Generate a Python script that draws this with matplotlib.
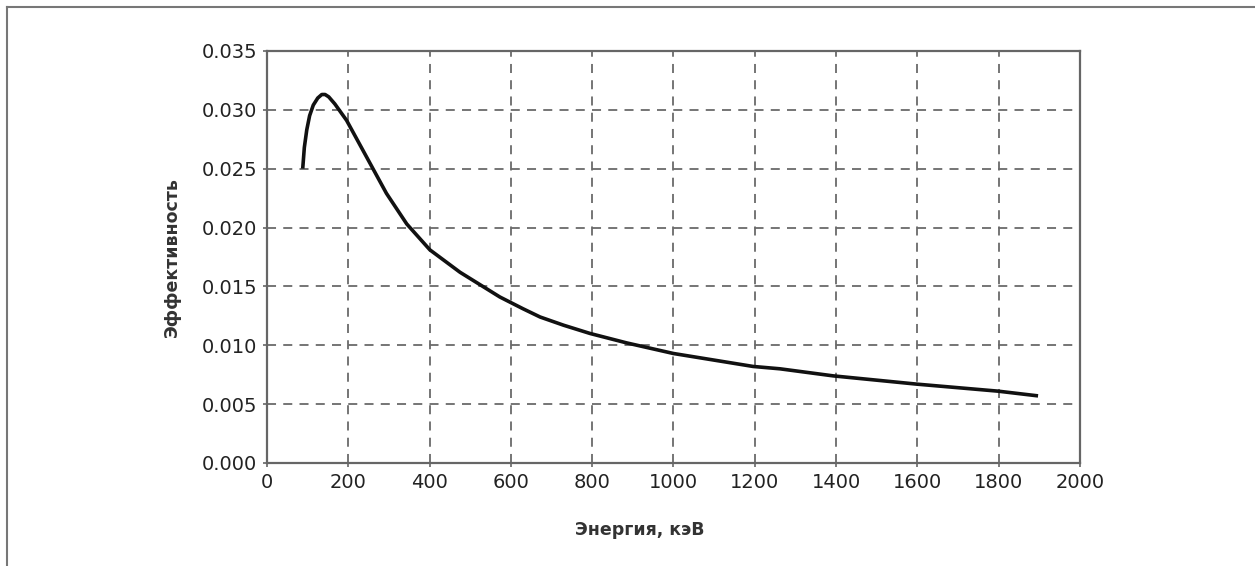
import numpy as np
import matplotlib
matplotlib.use("Agg")
from matplotlib import pyplot as plt
from matplotlib.lines import Line2D

plt.rcParams['font.family'] = ['DejaVu Sans']

# efficiency curve
energy = [88, 92, 98, 105, 114, 125, 135, 143, 152, 167, 196, 245, 294, 344, 401, 475,
          573, 630, 672, 730, 795, 885, 1000, 1196, 1262, 1393, 1598, 1799, 1897]
efficiency = [0.0250, 0.0268, 0.0283, 0.0295, 0.0304, 0.0310, 0.0313, 0.0313, 0.0311,
              0.0305, 0.0291, 0.0260, 0.0229, 0.0203, 0.0181, 0.0162, 0.0141, 0.0131,
              0.0124, 0.0117, 0.0110, 0.0102, 0.0093, 0.0082, 0.0080, 0.0074, 0.0067,
              0.0061, 0.0057]

x_ticks = [0, 200, 400, 600, 800, 1000, 1200, 1400, 1600, 1800, 2000]
y_ticks = [0.000, 0.005, 0.010, 0.015, 0.020, 0.025, 0.030, 0.035]

fig = plt.figure(figsize=(12.55, 5.66), dpi=100)
ax = fig.add_axes([0.2127, 0.182, 0.6478, 0.728])

ax.plot(energy, efficiency, color='#111111', linewidth=2.6,
        solid_capstyle='butt', solid_joinstyle='round')

ax.set_xlim(0, 2000)
ax.set_ylim(0, 0.035)
ax.set_xticks(x_ticks)
ax.set_yticks(y_ticks)
ax.set_yticklabels(['{:.3f}'.format(v) for v in y_ticks])
ax.grid(True, linestyle=(0, (5, 4)), color='#6a6a6a', linewidth=1.3)
ax.set_axisbelow(True)

for s in ax.spines.values():
    s.set_color('#666666')
    s.set_linewidth(1.6)

ax.tick_params(direction='out', length=3, width=1.2, color='#666666',
               labelsize=14, labelcolor='#222222', pad=4)

ax.set_xlabel('Энергия, кэВ', fontsize=12.5, fontweight='bold', color='#333333')
ax.set_ylabel('Эффективность', fontsize=12.5, fontweight='bold', color='#333333')
ax.xaxis.set_label_coords(0.458, -0.14)
ax.yaxis.set_label_coords(-0.106, 0.5)

# outer frame (left and top edges only)
fig.add_artist(Line2D([7/1255, 7/1255], [0, 1 - 7/566], transform=fig.transFigure,
                      color='#777777', linewidth=1.5))
fig.add_artist(Line2D([7/1255, 1], [1 - 7/566, 1 - 7/566], transform=fig.transFigure,
                      color='#777777', linewidth=1.5))

fig.savefig("out.png", dpi=100, facecolor='#ffffff')
